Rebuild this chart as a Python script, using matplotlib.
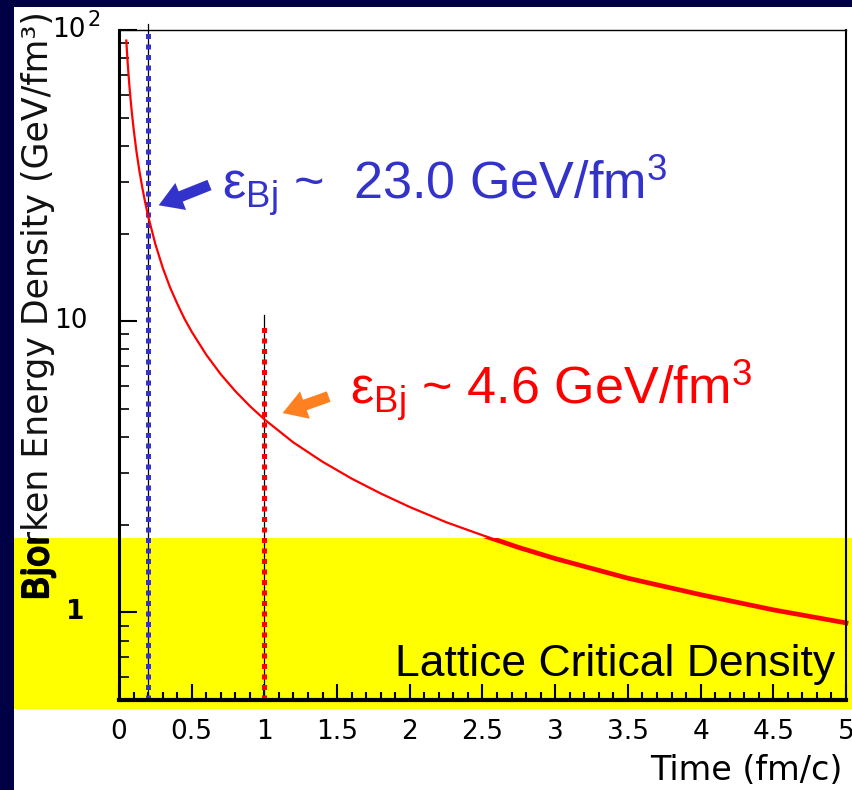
import numpy as np
import matplotlib
matplotlib.use('Agg')
import matplotlib.pyplot as plt
from matplotlib.patches import Rectangle
from matplotlib.transforms import blended_transform_factory, ScaledTranslation
import matplotlib.patheffects as pe
from matplotlib.ticker import MultipleLocator, LogLocator, NullFormatter

plt.rcParams['mathtext.fontset'] = 'custom'
plt.rcParams['mathtext.rm'] = 'Liberation Sans'
plt.rcParams['mathtext.it'] = 'Liberation Sans:italic'
plt.rcParams['mathtext.bf'] = 'Liberation Sans:bold'

# ---------------- data ----------------
time_fm = [0.05, 0.06, 0.07, 0.08, 0.09, 0.10, 0.12, 0.14, 0.16, 0.18, 0.20,
           0.25, 0.30, 0.35, 0.40, 0.45, 0.50, 0.60, 0.70, 0.80, 0.90, 1.00,
           1.20, 1.40, 1.60, 1.80, 2.00, 2.25, 2.50, 2.75, 3.00, 3.50, 4.00,
           4.50, 5.00]
energy_density = [92.0, 76.7, 65.7, 57.5, 51.1, 46.0, 38.3, 32.9, 28.8, 25.6, 23.0,
                  18.4, 15.3, 13.1, 11.5, 10.2, 9.2, 7.67, 6.57, 5.75, 5.11, 4.6,
                  3.83, 3.29, 2.88, 2.56, 2.30, 2.04, 1.84, 1.67, 1.53, 1.31, 1.15,
                  1.02, 0.92]
mark_times = [0.2, 1.0]
mark_tops = [100.0, 10.0]
mark_colors = ['#3333CC', '#FF0000']
band_top = 1.8            # lattice critical density level
band_bottom = 0.467
xtick_vals = [0, 0.5, 1, 1.5, 2, 2.5, 3, 3.5, 4, 4.5, 5]
xtick_labels = ['0', '0.5', '1', '1.5', '2', '2.5', '3', '3.5', '4', '4.5', '5']
ytick_vals = [1, 10, 100]
ytick_labels = ['1', '10', '10']
blue_label = r'ε$_{\mathrm{Bj}}$ ~  23.0 GeV/fm$^{3}$'
red_label = r'ε$_{\mathrm{Bj}}$ ~ 4.6 GeV/fm$^{3}$'

# ---------------- figure ----------------
W, H = 853, 790
fig = plt.figure(figsize=(W / 100, H / 100), dpi=100, facecolor='#000044')


def fx(x):
    return x / W


def fy(y):
    return 1 - y / H


fig.patches.append(Rectangle((fx(14), 0), 1 - fx(14), fy(7), transform=fig.transFigure,
                             facecolor='white', edgecolor='none', zorder=-3))

ax = fig.add_axes([fx(119), fy(700), fx(846) - fx(119), fy(30) - fy(700)])
ax.set_facecolor('none')
ax.set_xlim(0, 5)
ax.set_yscale('log')
ax.set_ylim(0.5, 100)

fig_data = blended_transform_factory(fig.transFigure, ax.transData)
yellow = Rectangle((fx(14), band_bottom), 1 - fx(14), band_top - band_bottom,
                   transform=fig_data, facecolor='#FFFF00', edgecolor='none',
                   zorder=0.1, clip_on=False)
ax.add_patch(yellow)

# vertical marker lines
for t, top, c in zip(mark_times, mark_tops, mark_colors):
    ax.plot([t, t], [0.5, top * 1.05], color='black', lw=0.9, zorder=2, clip_on=False)
    ax.plot([t, t], [0.5, top * 0.98], color=c, lw=3.6, ls=(0, (1.0, 1.1)), zorder=2.2,
            clip_on=False)

# curve
ax.plot(time_fm, energy_density, color='#FF0000', lw=1.6, zorder=3)
thick, = ax.plot(time_fm, energy_density, color='#FF0000', lw=3.4, zorder=3)
thick.set_clip_path(yellow)

# ticks
ax.set_xticks(xtick_vals, xtick_labels)
ax.xaxis.set_minor_locator(MultipleLocator(0.1))
ax.tick_params(axis='x', which='major', direction='in', length=11.5, width=1.5, top=False,
               labelsize=19, pad=14, labelcolor='black')
ax.tick_params(axis='x', which='minor', direction='in', length=5.8, width=1.5, top=False)
ax.yaxis.set_major_locator(LogLocator(base=10, numticks=10))
ax.yaxis.set_minor_locator(LogLocator(base=10, subs=np.arange(2, 10), numticks=10))
ax.yaxis.set_minor_formatter(NullFormatter())
ax.tick_params(axis='y', which='major', direction='in', length=13, width=1.5, right=False,
               labelleft=False)
ax.tick_params(axis='y', which='minor', direction='in', length=7, width=1.2, right=False)
for lab in ax.get_xticklabels():
    lab.set_family('DejaVu Sans')

ax.spines['bottom'].set_linewidth(3.0)
ax.spines['left'].set_linewidth(2.2)
ax.spines['top'].set_linewidth(1.0)
ax.spines['right'].set_linewidth(1.5)
for s in ax.spines.values():
    s.set_zorder(4)

# y tick labels (manual, as in the original)
ax.text(fx(85), ytick_vals[0], ytick_labels[0], transform=fig_data, ha='right', va='center',
        fontsize=19, fontweight='bold', family='DejaVu Sans', color='black')
ax.text(fx(88), ytick_vals[1], ytick_labels[1], transform=fig_data, ha='right', va='center',
        fontsize=19, family='DejaVu Sans', color='black')
ax.text(fx(86), ytick_vals[2], ytick_labels[2], transform=fig_data, ha='right', va='center',
        fontsize=19, family='DejaVu Sans', color='black')
ax.text(fx(88), ytick_vals[2], '2', transform=fig_data + ScaledTranslation(0, 10 / 100, fig.dpi_scale_trans),
        ha='left', va='center', fontsize=15, family='DejaVu Sans', color='black')

# axis labels
ylab = 'Bjorken Energy Density (GeV/fm³)'
fig.text(fx(38), fy(306), ylab, rotation=90, ha='center', va='center', fontsize=25,
         family='DejaVu Sans', color='#111111')
bold_lab = fig.text(fx(38), fy(306), ylab, rotation=90, ha='center', va='center', fontsize=25,
                    family='DejaVu Sans', color='black',
                    path_effects=[pe.withStroke(linewidth=1.6, foreground='black')])
bold_lab.set_clip_path(yellow)
fig.text(fx(843), fy(770), 'Time (fm/c)', ha='right', va='center', fontsize=24,
         family='DejaVu Sans', color='black')

# annotations
fig.text(fx(222), fy(200), blue_label, ha='left', va='baseline', fontsize=37.5,
         family='Liberation Sans', color='#3333CC')
fig.text(fx(350), fy(405), red_label, ha='left', va='baseline', fontsize=37.5,
         family='Liberation Sans', color='#FF0000')
fig.text(fx(835), fy(676), 'Lattice Critical Density', ha='right', va='baseline',
         fontsize=32, family='Liberation Sans', color='black')

arrow_style = 'simple,head_length=0.9,head_width=1.1,tail_width=0.42'
ax.annotate('', xy=(0.255, 24.8), xytext=(0.64, 29.6),
            arrowprops=dict(arrowstyle=arrow_style, mutation_scale=19, color='#3333CC', lw=0))
ax.annotate('', xy=(1.107, 4.8), xytext=(1.46, 5.55),
            arrowprops=dict(arrowstyle=arrow_style, mutation_scale=19, color='#FF8020', lw=0))

fig.savefig('out.png', dpi=100, facecolor=fig.get_facecolor())
